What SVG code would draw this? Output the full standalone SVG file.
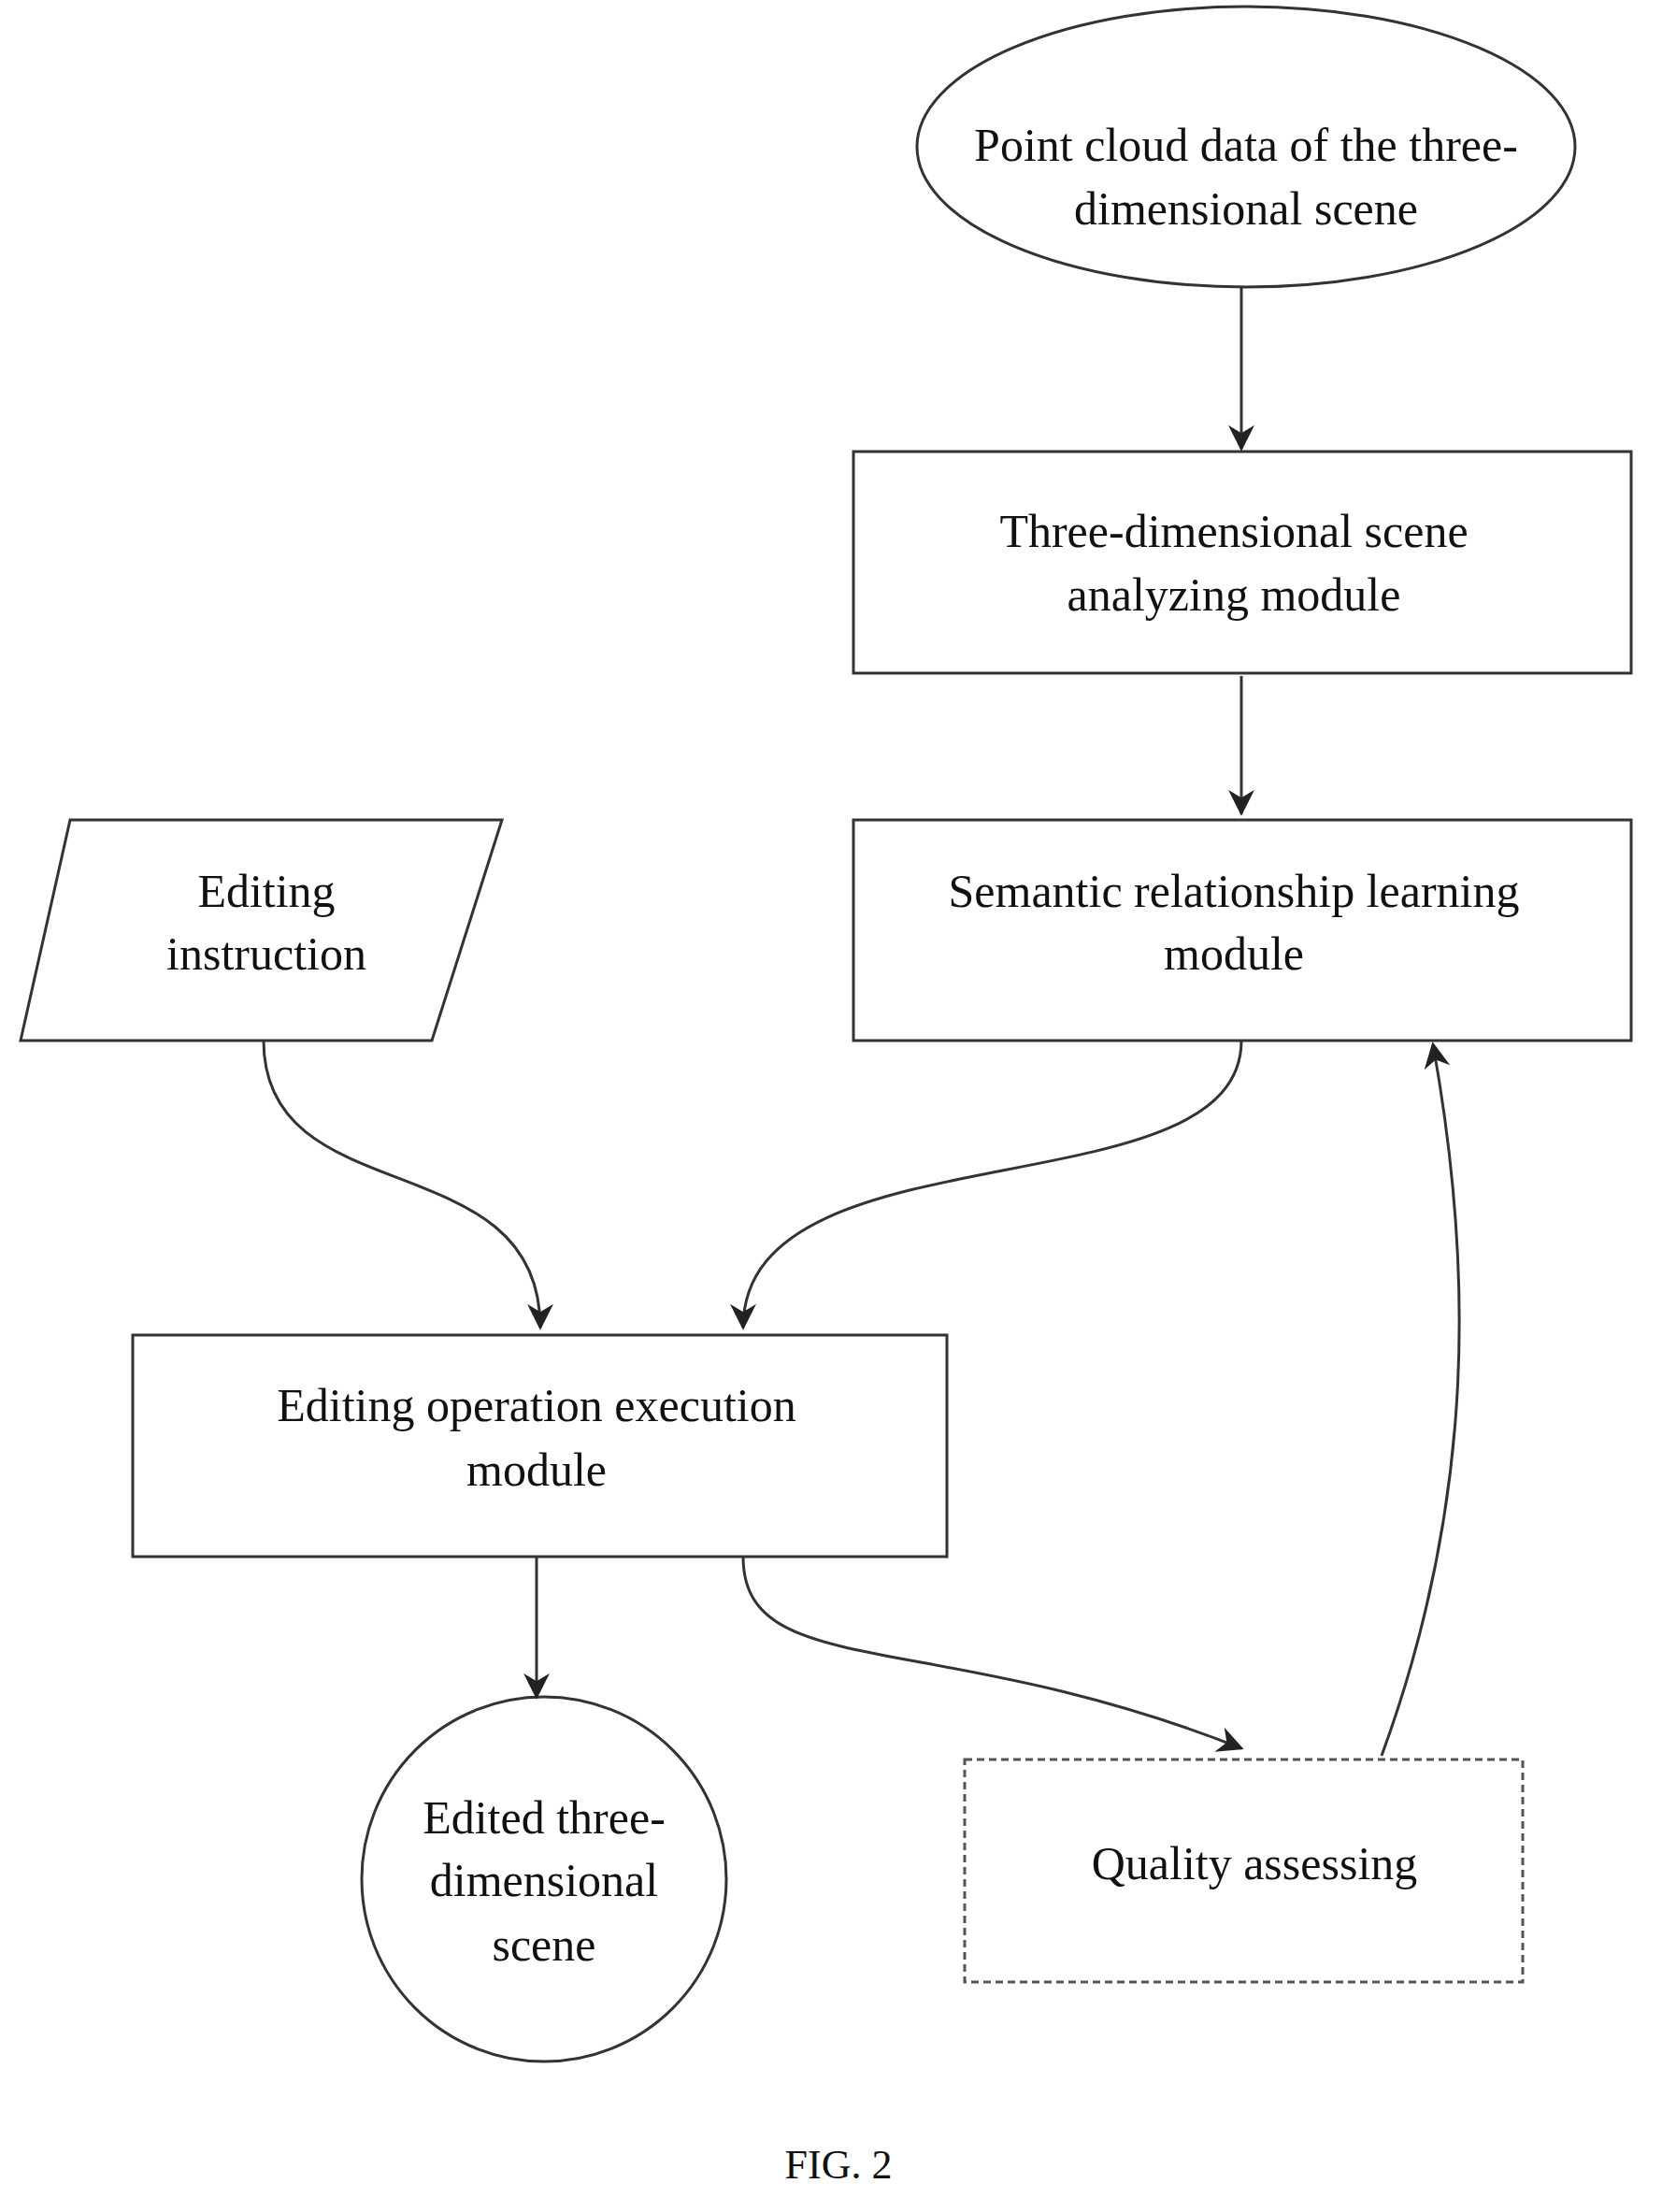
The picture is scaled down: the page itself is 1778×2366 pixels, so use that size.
<svg xmlns="http://www.w3.org/2000/svg" width="1778" height="2366" viewBox="0 0 1778 2366">
<style>
.s{fill:#fff;stroke:#333;stroke-width:3}
.d{fill:#fff;stroke:#555;stroke-width:3;stroke-dasharray:8,5}
.t{font-family:"Liberation Serif",serif;font-size:50px;fill:#111;text-anchor:middle}
.c{fill:none;stroke:#333;stroke-width:3;marker-end:url(#a)}
</style>
<defs><marker id="a" viewBox="0 0 10 10" refX="9" refY="5" markerWidth="9" markerHeight="9" markerUnits="userSpaceOnUse" orient="auto"><path d="M0,0 L10,5 L0,10 L3,5 Z" fill="#222"/></marker>
<marker id="b" viewBox="0 0 10 10" refX="9" refY="5" markerWidth="28" markerHeight="28" markerUnits="userSpaceOnUse" orient="auto"><path d="M0,0 L10,5 L0,10 L3,5 Z" fill="#222"/></marker></defs>
<rect width="1778" height="2366" fill="#fff"/>
<g id="n1"><ellipse class="s" cx="1333" cy="157" rx="352" ry="150"/><text class="t" x="1333" y="172">Point cloud data of the three-</text><text class="t" x="1333" y="240">dimensional scene</text></g>
<g id="n2"><rect class="s" x="913" y="483" width="832" height="237"/><text class="t" x="1320" y="585">Three-dimensional scene</text><text class="t" x="1320" y="653">analyzing module</text></g>
<g id="n3"><rect class="s" x="913" y="877" width="832" height="236"/><text class="t" x="1320" y="970">Semantic relationship learning</text><text class="t" x="1320" y="1037">module</text></g>
<g id="n4"><polygon class="s" points="75,877 537,877 462,1113 22,1113"/><text class="t" x="285" y="970">Editing</text><text class="t" x="285" y="1037">instruction</text></g>
<g id="n5"><rect class="s" x="142" y="1428" width="871" height="237"/><text class="t" x="574" y="1520">Editing operation execution</text><text class="t" x="574" y="1589">module</text></g>
<g id="n6"><circle class="s" cx="582" cy="2010" r="195"/><text class="t" x="582" y="1961">Edited three-</text><text class="t" x="582" y="2028">dimensional</text><text class="t" x="582" y="2097">scene</text></g>
<g id="n7"><rect class="d" x="1032" y="1882" width="597" height="238"/><text class="t" x="1342" y="2010">Quality assessing</text></g>
<g id="edges" fill="none" stroke="#333" stroke-width="3">
<path d="M1328,308 V480" marker-end="url(#b)"/>
<path d="M1328,723 V870" marker-end="url(#b)"/>
<path d="M282,1113 C282,1300 578,1220 578,1420" marker-end="url(#b)"/>
<path d="M1328,1113 C1328,1300 795,1200 795,1420" marker-end="url(#b)"/>
<path d="M574,1665 V1815" marker-end="url(#b)"/>
<path d="M795,1665 C795,1800 1000,1740 1328,1870" marker-end="url(#b)"/>
<path d="M1478,1878 C1580,1600 1575,1350 1533,1117" marker-end="url(#b)"/>
</g>
<text class="t" x="897" y="2330" style="font-size:44px">FIG. 2</text>
</svg>
